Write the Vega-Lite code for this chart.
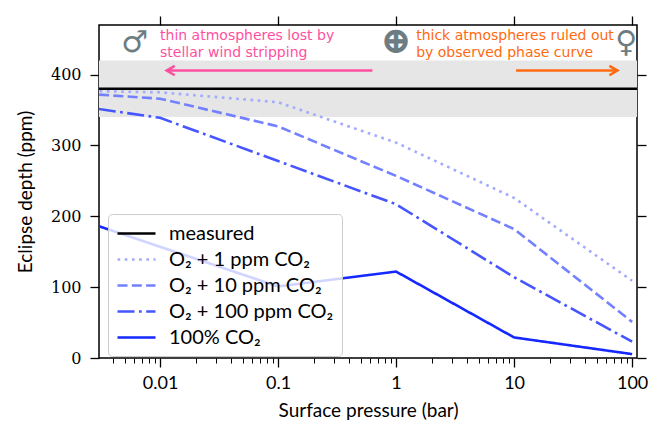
{
  "$schema": "https://vega.github.io/schema/vega-lite/v6.json",
  "description": "Eclipse depth vs surface pressure",
  "width": 538,
  "height": 333,
  "autosize": {"type": "none"},
  "padding": {"left": 99, "top": 25, "right": 27, "bottom": 84},
  "config": {
    "font": "Lato",
    "view": {"stroke": "black", "strokeWidth": 1.5},
    "axis": {
      "domain": false,
      "grid": false,
      "tickColor": "black",
      "tickWidth": 1.3,
      "labelColor": "black",
      "titleColor": "black",
      "titleFontWeight": "normal"
    }
  },
  "datasets": {
    "curves": [
      {"p": 0.001, "v": 380, "series": "measured"},
      {"p": 1000, "v": 380, "series": "measured"},
      {"p": 0.001, "v": 378, "series": "O₂ + 1 ppm CO₂"},
      {"p": 0.01, "v": 375, "series": "O₂ + 1 ppm CO₂"},
      {"p": 0.1, "v": 361, "series": "O₂ + 1 ppm CO₂"},
      {"p": 1, "v": 304, "series": "O₂ + 1 ppm CO₂"},
      {"p": 10, "v": 226, "series": "O₂ + 1 ppm CO₂"},
      {"p": 100, "v": 109, "series": "O₂ + 1 ppm CO₂"},
      {"p": 0.001, "v": 377, "series": "O₂ + 10 ppm CO₂"},
      {"p": 0.01, "v": 366, "series": "O₂ + 10 ppm CO₂"},
      {"p": 0.1, "v": 327, "series": "O₂ + 10 ppm CO₂"},
      {"p": 1, "v": 257, "series": "O₂ + 10 ppm CO₂"},
      {"p": 10, "v": 182, "series": "O₂ + 10 ppm CO₂"},
      {"p": 100, "v": 51, "series": "O₂ + 10 ppm CO₂"},
      {"p": 0.001, "v": 363, "series": "O₂ + 100 ppm CO₂"},
      {"p": 0.01, "v": 339, "series": "O₂ + 100 ppm CO₂"},
      {"p": 0.1, "v": 278, "series": "O₂ + 100 ppm CO₂"},
      {"p": 1, "v": 217, "series": "O₂ + 100 ppm CO₂"},
      {"p": 10, "v": 114, "series": "O₂ + 100 ppm CO₂"},
      {"p": 100, "v": 23, "series": "O₂ + 100 ppm CO₂"},
      {"p": 0.001, "v": 213, "series": "100% CO₂"},
      {"p": 0.01, "v": 157, "series": "100% CO₂"},
      {"p": 0.1, "v": 101, "series": "100% CO₂"},
      {"p": 1, "v": 122, "series": "100% CO₂"},
      {"p": 10, "v": 29, "series": "100% CO₂"},
      {"p": 100, "v": 5.5, "series": "100% CO₂"}
    ],
    "pinkArrow": [{"p": 0.63, "p2": 0.0114, "v": 405.7}],
    "orangeArrow": [{"p": 10.4, "p2": 75, "v": 405.7}],
    "pinkText": [
      {"p": 0.01, "v": 448.8, "t": "thin atmospheres lost by\nstellar wind stripping"}
    ],
    "orangeText": [
      {"p": 1.48, "v": 448.8, "t": "thick atmospheres ruled out\nby observed phase curve"}
    ],
    "planets": [
      {"p": 0.0061, "v": 445, "t": "♂"},
      {"p": 89, "v": 444, "t": "♀"}
    ],
    "earth": [
      {"p": 1.0, "v": 446, "t": "⊕"}
    ]
  },
  "resolve": {"axis": {"x": "independent", "y": "independent"}},
  "layer": [
    {
      "data": {"values": [{"v": 340, "v2": 420}]},
      "mark": {"type": "rect", "color": "#e5e6e5"},
      "encoding": {
        "y": {"field": "v", "type": "quantitative", "scale": {"domain": [0, 470], "nice": false}, "axis": null},
        "y2": {"field": "v2"}
      }
    },
    {
      "data": {"name": "curves"},
      "mark": {"type": "line", "strokeWidth": 2.6, "clip": true},
      "encoding": {
        "x": {
          "field": "p", "type": "quantitative",
          "scale": {"type": "log", "domain": [0.00304, 110], "nice": false},
          "axis": {"orient": "bottom", "values": [0.01, 0.1, 1, 10, 100], "format": "~g", "title": "Surface pressure (bar)", "tickSize": 9, "labelFontSize": 18, "labelPadding": 7, "titleFontSize": 19, "titlePadding": 9}
        },
        "y": {
          "field": "v", "type": "quantitative",
          "scale": {"domain": [0, 470], "nice": false},
          "axis": {"orient": "left", "values": [0, 100, 200, 300, 400], "title": "Eclipse depth (ppm)", "tickSize": 9, "labelFont": "DejaVu Serif", "labelFontSize": 16, "labelPadding": 9, "titleFontSize": 19, "titlePadding": 15}
        },
        "color": {
          "field": "series", "type": "nominal",
          "scale": {
            "domain": ["measured", "O₂ + 1 ppm CO₂", "O₂ + 10 ppm CO₂", "O₂ + 100 ppm CO₂", "100% CO₂"],
            "range": ["#000000", "#a3abff", "#7380ff", "#4555ff", "#1428ff"]
          },
          "legend": {"title": null, "orient": "none", "legendX": 9, "legendY": 189, "fillColor": "rgba(255,255,255,0.8)", "strokeColor": "#cccccc", "cornerRadius": 4, "padding": 8, "symbolType": "M-1,0L2.8,0", "symbolSize": 400, "symbolStrokeWidth": 2.6, "labelFontSize": 20, "labelFont": "Lato", "rowPadding": 4, "labelOffset": 30, "labelLimit": 300, "zindex": 1}
        },
        "strokeDash": {
          "field": "series", "type": "nominal",
          "scale": {
            "domain": ["measured", "O₂ + 1 ppm CO₂", "O₂ + 10 ppm CO₂", "O₂ + 100 ppm CO₂", "100% CO₂"],
            "range": [[1, 0], [2.7, 4.5], [10, 4.3], [17, 4.5, 2.7, 4.5], [1, 0]]
          },
          "legend": {"title": null, "orient": "none", "legendX": 9, "legendY": 189, "fillColor": "rgba(255,255,255,0.8)", "strokeColor": "#cccccc", "cornerRadius": 4, "padding": 8, "symbolType": "M-1,0L2.8,0", "symbolSize": 400, "symbolStrokeWidth": 2.6, "labelFontSize": 20, "labelFont": "Lato", "rowPadding": 4, "labelOffset": 30, "labelLimit": 300, "zindex": 1}
        }
      }
    },
    {
      "data": {"name": "pinkArrow"},
      "mark": {"type": "rule", "color": "#ff4fa0", "strokeWidth": 2.6},
      "encoding": {
        "x": {
          "field": "p", "type": "quantitative",
          "scale": {"type": "log", "domain": [0.00304, 110], "nice": false},
          "axis": {"orient": "top", "values": [0.01, 0.1, 1, 10, 100], "labels": false, "tickSize": 9, "title": null}
        },
        "x2": {"field": "p2"},
        "y": {"field": "v", "type": "quantitative", "scale": {"domain": [0, 470], "nice": false}, "axis": null}
      }
    },
    {
      "data": {"name": "pinkArrow"},
      "mark": {"type": "point", "shape": "M1.7,-1L0,0L1.7,1", "filled": false, "stroke": "#ff4fa0", "strokeWidth": 2.6, "size": 88, "opacity": 1},
      "encoding": {
        "x": {"field": "p2", "type": "quantitative", "scale": {"type": "log", "domain": [0.00304, 110], "nice": false}, "axis": null},
        "y": {"field": "v", "type": "quantitative", "scale": {"domain": [0, 470], "nice": false}, "axis": null}
      }
    },
    {
      "data": {"name": "orangeArrow"},
      "mark": {"type": "rule", "color": "#ff6a10", "strokeWidth": 2.6},
      "encoding": {
        "x": {"field": "p", "type": "quantitative", "scale": {"type": "log", "domain": [0.00304, 110], "nice": false}, "axis": null},
        "x2": {"field": "p2"},
        "y": {"field": "v", "type": "quantitative", "scale": {"domain": [0, 470], "nice": false}, "axis": null}
      }
    },
    {
      "data": {"name": "orangeArrow"},
      "mark": {"type": "point", "shape": "M-1.7,-1L0,0L-1.7,1", "filled": false, "stroke": "#ff6a10", "strokeWidth": 2.6, "size": 88, "opacity": 1},
      "encoding": {
        "x": {"field": "p2", "type": "quantitative", "scale": {"type": "log", "domain": [0.00304, 110], "nice": false}, "axis": null},
        "y": {"field": "v", "type": "quantitative", "scale": {"domain": [0, 470], "nice": false}, "axis": null}
      }
    },
    {
      "data": {"name": "pinkText"},
      "mark": {"type": "text", "align": "left", "baseline": "alphabetic", "fontSize": 14, "font": "DejaVu Sans", "color": "#ff4fa0", "lineBreak": "\n", "lineHeight": 17},
      "encoding": {
        "x": {"field": "p", "type": "quantitative", "scale": {"type": "log", "domain": [0.00304, 110], "nice": false}, "axis": null},
        "y": {"field": "v", "type": "quantitative", "scale": {"domain": [0, 470], "nice": false}, "axis": null},
        "text": {"field": "t"}
      }
    },
    {
      "data": {"name": "orangeText"},
      "mark": {"type": "text", "align": "left", "baseline": "alphabetic", "fontSize": 14, "font": "DejaVu Sans", "color": "#ff6a10", "lineBreak": "\n", "lineHeight": 17},
      "encoding": {
        "x": {"field": "p", "type": "quantitative", "scale": {"type": "log", "domain": [0.00304, 110], "nice": false}, "axis": null},
        "y": {"field": "v", "type": "quantitative", "scale": {"domain": [0, 470], "nice": false}, "axis": null},
        "text": {"field": "t"}
      }
    },
    {
      "data": {"name": "earth"},
      "mark": {"type": "text", "align": "center", "baseline": "middle", "fontSize": 34, "font": "DejaVu Sans", "fontWeight": "bold", "color": "#6c7c82", "stroke": "#6c7c82", "strokeWidth": 1},
      "encoding": {
        "x": {"field": "p", "type": "quantitative", "scale": {"type": "log", "domain": [0.00304, 110], "nice": false}, "axis": null},
        "y": {"field": "v", "type": "quantitative", "scale": {"domain": [0, 470], "nice": false}, "axis": null},
        "text": {"field": "t"}
      }
    },
    {
      "data": {"name": "planets"},
      "mark": {"type": "text", "align": "center", "baseline": "middle", "fontSize": 30, "font": "DejaVu Sans", "fontWeight": "bold", "color": "#6c7c82"},
      "encoding": {
        "x": {
          "field": "p", "type": "quantitative",
          "scale": {"type": "log", "domain": [0.00304, 110], "nice": false},
          "axis": {"orient": "bottom", "values": [0.004, 0.005, 0.006, 0.007, 0.008, 0.009, 0.02, 0.03, 0.04, 0.05, 0.06, 0.07, 0.08, 0.09, 0.2, 0.3, 0.4, 0.5, 0.6, 0.7, 0.8, 0.9, 2, 3, 4, 5, 6, 7, 8, 9, 20, 30, 40, 50, 60, 70, 80, 90], "labels": false, "tickSize": 5, "tickWidth": 1, "title": null}
        },
        "y": {
          "field": "v", "type": "quantitative",
          "scale": {"domain": [0, 470], "nice": false},
          "axis": {"orient": "right", "values": [0, 100, 200, 300, 400], "labels": false, "tickSize": 9, "title": null}
        },
        "text": {"field": "t"}
      }
    }
  ]
}
